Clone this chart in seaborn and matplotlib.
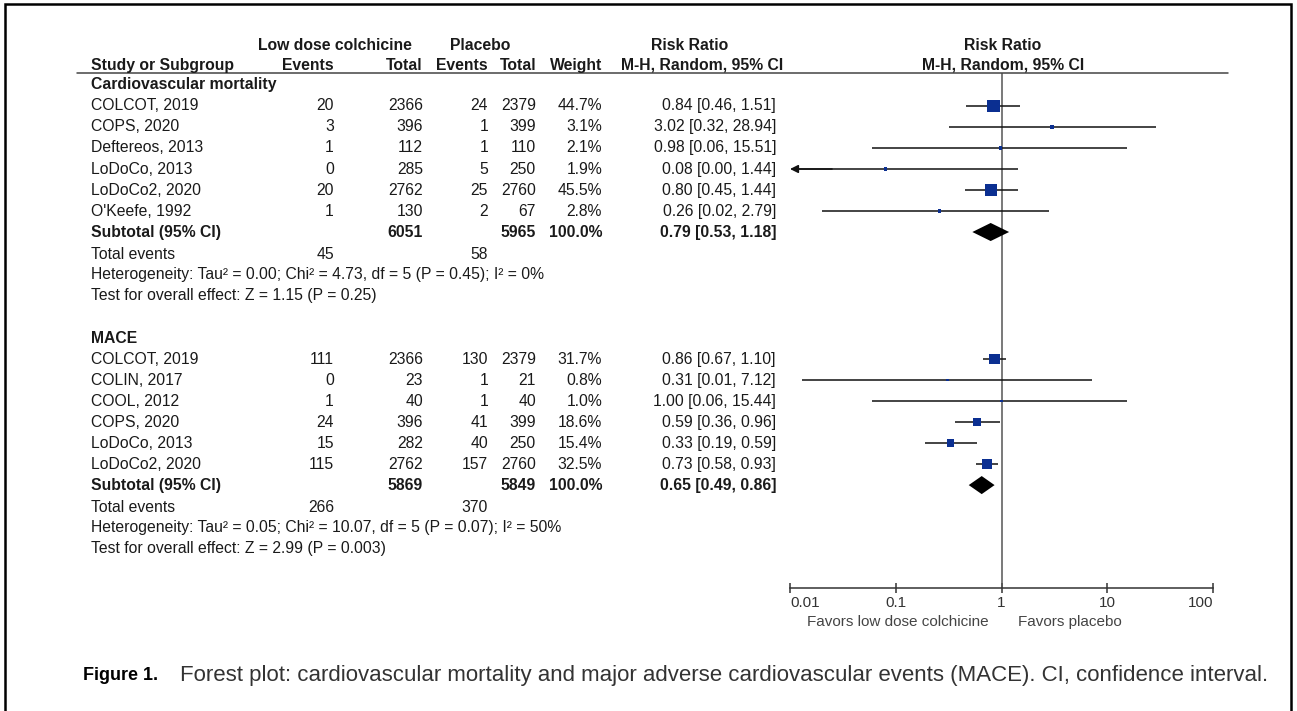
import numpy as np
import pandas as pd
import matplotlib
matplotlib.use('Agg')
import matplotlib.pyplot as plt
import matplotlib.transforms as mtransforms
from matplotlib.lines import Line2D
from matplotlib.ticker import NullLocator
import seaborn as sns

# ---- data: cardiovascular mortality ----
cv_studies = ['COLCOT, 2019', 'COPS, 2020', 'Deftereos, 2013', 'LoDoCo, 2013', 'LoDoCo2, 2020', "O'Keefe, 1992"]
cv_col_events = [20, 3, 1, 0, 20, 1]
cv_col_total = [2366, 396, 112, 285, 2762, 130]
cv_pla_events = [24, 1, 1, 5, 25, 2]
cv_pla_total = [2379, 399, 110, 250, 2760, 67]
cv_weight = [44.7, 3.1, 2.1, 1.9, 45.5, 2.8]
cv_rr = [0.84, 3.02, 0.98, 0.08, 0.80, 0.26]
cv_lo = [0.46, 0.32, 0.06, 0.004, 0.45, 0.02]
cv_hi = [1.51, 28.94, 15.51, 1.44, 1.44, 2.79]
cv_pooled = [0.79, 0.53, 1.18]
cv_sub_totals = [6051, 5965]
cv_total_events = [45, 58]
cv_het = 'Heterogeneity: Tau² = 0.00; Chi² = 4.73, df = 5 (P = 0.45); I² = 0%'
cv_test = 'Test for overall effect: Z = 1.15 (P = 0.25)'

# ---- data: MACE ----
mace_studies = ['COLCOT, 2019', 'COLIN, 2017', 'COOL, 2012', 'COPS, 2020', 'LoDoCo, 2013', 'LoDoCo2, 2020']
mace_col_events = [111, 0, 1, 24, 15, 115]
mace_col_total = [2366, 23, 40, 396, 282, 2762]
mace_pla_events = [130, 1, 1, 41, 40, 157]
mace_pla_total = [2379, 21, 40, 399, 250, 2760]
mace_weight = [31.7, 0.8, 1.0, 18.6, 15.4, 32.5]
mace_rr = [0.86, 0.31, 1.00, 0.59, 0.33, 0.73]
mace_lo = [0.67, 0.013, 0.06, 0.36, 0.19, 0.58]
mace_hi = [1.10, 7.12, 15.44, 0.96, 0.59, 0.93]
mace_pooled = [0.65, 0.49, 0.86]
mace_sub_totals = [5869, 5849]
mace_total_events = [266, 370]
mace_het = 'Heterogeneity: Tau² = 0.05; Chi² = 10.07, df = 5 (P = 0.07); I² = 50%'
mace_test = 'Test for overall effect: Z = 2.99 (P = 0.003)'

tick_values = [0.01, 0.1, 1, 10, 100]
tick_labels = ['0.01', '0.1', '1', '10', '100']

groups = [
    dict(name='Cardiovascular mortality', studies=cv_studies, ce=cv_col_events, ct=cv_col_total,
         pe=cv_pla_events, pt=cv_pla_total, w=cv_weight, rr=cv_rr, lo=cv_lo, hi=cv_hi,
         pooled=cv_pooled, sub=cv_sub_totals, tev=cv_total_events, het=cv_het, test=cv_test),
    dict(name='MACE', studies=mace_studies, ce=mace_col_events, ct=mace_col_total,
         pe=mace_pla_events, pt=mace_pla_total, w=mace_weight, rr=mace_rr, lo=mace_lo, hi=mace_hi,
         pooled=mace_pooled, sub=mace_sub_totals, tev=mace_total_events, het=mace_het, test=mace_test),
]

sns.set_theme(style='white')
plt.rcParams['font.family'] = ['Liberation Sans', 'DejaVu Sans']

W, H = 1297, 711
fig = plt.figure(figsize=(W / 100, H / 100), dpi=100)


def fx(px):
    return px / W


def fy(px):
    return 1 - px / H


# forest panel: rows are 21 px apart, the panel runs from the header rule to the axis
ax = fig.add_axes([fx(790), fy(588), fx(1213) - fx(790), (588 - 73) / H])
ax.set_xscale('log')
ax.set_xlim(0.01, 100)
ax.set_ylim(23.95, -0.571)

TXT = '#1a1a1a'
FS = 11.3
tr = mtransforms.blended_transform_factory(fig.transFigure, ax.transData)


def put(px, row, s, ha='left', bold=False, size=FS):
    fig.text(fx(px), row, s, transform=tr, ha=ha, va='center', fontsize=size,
             fontweight='bold' if bold else 'normal', color=TXT)


# header
put(335, -1.9, 'Low dose colchicine', ha='center', bold=True)
put(480, -1.9, 'Placebo', ha='center', bold=True)
put(690, -1.9, 'Risk Ratio', ha='center', bold=True)
put(1003, -1.9, 'Risk Ratio', ha='center', bold=True)
put(91, -0.95, 'Study or Subgroup', bold=True)
put(334, -0.95, 'Events', ha='right', bold=True)
put(423, -0.95, 'Total', ha='right', bold=True)
put(488, -0.95, 'Events', ha='right', bold=True)
put(536, -0.95, 'Total', ha='right', bold=True)
put(602, -0.95, 'Weight', ha='right', bold=True)
put(783, -0.95, 'M-H, Random, 95% CI', ha='right', bold=True)
put(1003, -0.95, 'M-H, Random, 95% CI', ha='center', bold=True)
fig.add_artist(Line2D([fx(77), fx(1228)], [fy(73), fy(73)], color='#444444', lw=1.1))

records = []
offset = 0.0
for g in groups:
    put(91, offset, g['name'], bold=True)
    n = len(g['studies'])
    for i in range(n):
        r = offset + 1 + i
        put(91, r, g['studies'][i])
        put(334, r, str(g['ce'][i]), ha='right')
        put(423, r, str(g['ct'][i]), ha='right')
        put(488, r, str(g['pe'][i]), ha='right')
        put(536, r, str(g['pt'][i]), ha='right')
        put(602, r, '%.1f%%' % g['w'][i], ha='right')
        put(776, r, '%.2f [%.2f, %.2f]' % (g['rr'][i], g['lo'][i], g['hi'][i]), ha='right')
        records.append(dict(rr=g['rr'][i], lo=g['lo'][i], hi=g['hi'][i], w=g['w'][i], row=r))
    rs = offset + n + 1
    put(91, rs, 'Subtotal (95% CI)', bold=True)
    put(423, rs, str(g['sub'][0]), ha='right', bold=True)
    put(536, rs, str(g['sub'][1]), ha='right', bold=True)
    put(602, rs, '100.0%', ha='right', bold=True)
    p = g['pooled']
    put(776, rs, '%.2f [%.2f, %.2f]' % (p[0], p[1], p[2]), ha='right', bold=True)
    ax.fill([p[1], p[0], p[2], p[0]], [rs, rs - 0.43, rs, rs + 0.43], color='black', lw=0, zorder=4)
    put(91, rs + 1.05, 'Total events')
    put(334, rs + 1.05, str(g['tev'][0]), ha='right')
    put(488, rs + 1.05, str(g['tev'][1]), ha='right')
    put(91, rs + 2.0, g['het'])
    put(91, rs + 3.0, g['test'])
    offset += 12.05

df = pd.DataFrame(records)

# reference line at RR = 1
ax.axvline(1, color='#555555', lw=1.1, zorder=1)

# confidence intervals (arrow when the bound falls off the scale)
for _, d in df.iterrows():
    if d['lo'] < 0.01:
        ax.hlines(d['row'], 0.012, d['hi'], color='#111111', lw=1.1, zorder=2)
        ax.annotate('', xy=(0.01, d['row']), xytext=(0.025, d['row']),
                    arrowprops=dict(arrowstyle='-|>', color='#111111', lw=1.1,
                                    mutation_scale=12, shrinkA=0, shrinkB=0))
    else:
        ax.hlines(d['row'], d['lo'], d['hi'], color='#111111', lw=1.1, zorder=2)

sns.scatterplot(data=df, x='rr', y='row', size='w', sizes=(3.5, 77.5),
                size_norm=(df['w'].min(), df['w'].max()), marker='s', color='#0b2f91',
                linewidth=0, legend=False, ax=ax, zorder=3)

ax.set_xticks(tick_values)
ax.set_xticklabels(tick_labels)
ax.xaxis.set_minor_locator(NullLocator())
ax.set_yticks([])
ax.set_xlabel('')
ax.set_ylabel('')
for s in ['left', 'top', 'right']:
    ax.spines[s].set_visible(False)
ax.spines['bottom'].set_color('#333333')
ax.spines['bottom'].set_linewidth(1.1)
ax.tick_params(axis='x', direction='inout', length=7, width=1.1, color='#333333',
               labelsize=11, labelcolor='#333333', pad=2, bottom=True)
lbls = ax.get_xticklabels()
lbls[0].set_ha('left')
lbls[-1].set_ha('right')
ax.patch.set_alpha(0)

ax.annotate('Favors low dose colchicine', xy=(1, 0), xycoords=('data', 'axes fraction'),
            xytext=(-13 * 0.72, -34 * 0.72), textcoords='offset points', ha='right', va='center',
            fontsize=11, color='#444444')
ax.annotate('Favors placebo', xy=(1, 0), xycoords=('data', 'axes fraction'),
            xytext=(17 * 0.72, -34 * 0.72), textcoords='offset points', ha='left', va='center',
            fontsize=11, color='#444444')

# caption
fig.text(fx(83), fy(675), 'Figure 1.', ha='left', va='center', fontsize=13, fontweight='bold', color='black')
cap = fig.text(fx(180), fy(675),
               'Forest plot: cardiovascular mortality and major adverse cardiovascular events (MACE). CI, confidence interval.',
               ha='left', va='center', fontsize=13, color='#333333')
renderer = fig.canvas.get_renderer()
wpx = cap.get_window_extent(renderer).width
cap.set_fontsize(13 * (1268 - 180) / wpx)

# frame
fig.add_artist(plt.Rectangle((fx(5), -0.05), fx(1291) - fx(5), fy(4) + 0.05, fill=False,
                             lw=1.8, ec='black', transform=fig.transFigure, clip_on=False))

fig.savefig('out.png', dpi=100)
